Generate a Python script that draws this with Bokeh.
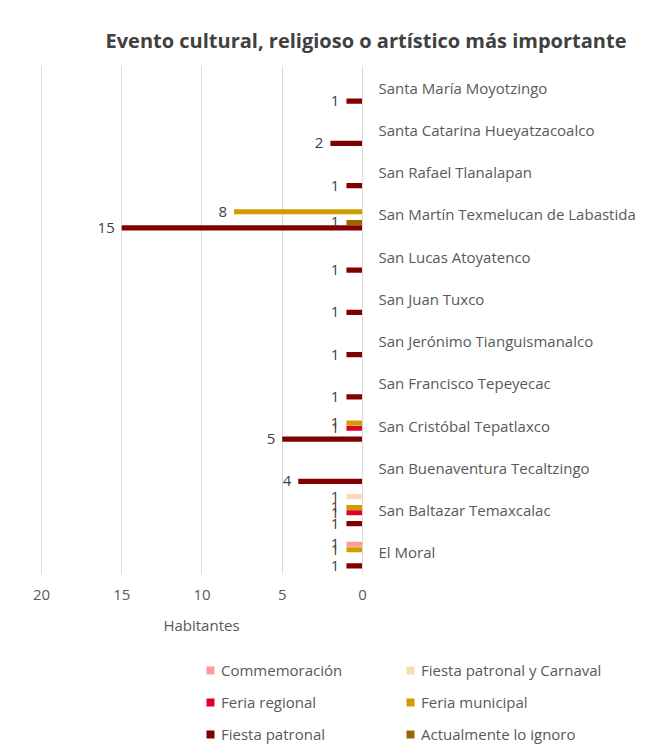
from bokeh.plotting import figure
from bokeh.models import (ColumnDataSource, FactorRange, Range1d, FixedTicker,
                          Legend, LegendItem)
from bokeh.transform import dodge
from bokeh.core.properties import value
from bokeh.embed import file_html
from bokeh.resources import INLINE

# ---------------- data ----------------
categories = [
    "Santa María Moyotzingo",
    "Santa Catarina Hueyatzacoalco",
    "San Rafael Tlanalapan",
    "San Martín Texmelucan de Labastida",
    "San Lucas Atoyatenco",
    "San Juan Tuxco",
    "San Jerónimo Tianguismanalco",
    "San Francisco Tepeyecac",
    "San Cristóbal Tepatlaxco",
    "San Buenaventura Tecaltzingo",
    "San Baltazar Temaxcalac",
    "El Moral",
]
fiesta_patronal = [1, 2, 1, 15, 1, 1, 1, 1, 5, 4, 1, 1]
actualmente_lo_ignoro = [0, 0, 0, 1, 0, 0, 0, 0, 0, 0, 0, 0]
feria_regional = [0, 0, 0, 0, 0, 0, 0, 0, 1, 0, 1, 0]
feria_municipal = [0, 0, 0, 8, 0, 0, 0, 0, 1, 0, 1, 1]
commemoracion = [0, 0, 0, 0, 0, 0, 0, 0, 0, 0, 0, 1]
fiesta_patronal_carnaval = [0, 0, 0, 0, 0, 0, 0, 0, 0, 0, 1, 0]
x_ticks = [0, 5, 10, 15, 20]

series_names = ["Fiesta patronal", "Actualmente lo ignoro", "Feria regional",
                "Feria municipal", "Commemoración", "Fiesta patronal y Carnaval"]
series_values = [fiesta_patronal, actualmente_lo_ignoro, feria_regional,
                 feria_municipal, commemoracion, fiesta_patronal_carnaval]
series_colors = ["#800000", "#996600", "#E0002A", "#D09C00", "#FF9999", "#F7DDB7"]

FONT = "Open Sans"
GRAY = "#595959"

p = figure(width=642, height=640,
           y_range=FactorRange(factors=categories[::-1]),
           x_range=Range1d(20.06, 0),
           y_axis_location="right",
           output_backend="svg", toolbar_location=None,
           min_border_left=40, min_border_right=280, min_border_top=66,
           min_border_bottom=67)

slot = 0.128
bar_h = 0.12
for i, (name, vals, col) in enumerate(zip(series_names, series_values, series_colors)):
    off = (i - 2.5) * slot
    src = ColumnDataSource(dict(cat=categories, v=vals))
    p.hbar(y=dodge("cat", off, range=p.y_range), right="v", left=0,
           height=bar_h, source=src, color=col, line_color=None)
    nz = [(c, v) for c, v in zip(categories, vals) if v != 0]
    lsrc = ColumnDataSource(dict(cat=[c for c, _ in nz], v=[v for _, v in nz],
                                 t=[str(v) for _, v in nz]))
    p.text(x="v", y=dodge("cat", off, range=p.y_range), text="t", source=lsrc,
           text_align="right", text_baseline="middle", x_offset=-7,
           text_font=value(FONT), text_font_size="15px", text_color="#404040")

# title
p.title.text = "Evento cultural, religioso o artístico más importante"
p.title.text_font = FONT
p.title.text_font_size = "20px"
p.title.text_font_style = "bold"
p.title.text_color = "#404040"
p.title.align = "left"
p.title.offset = 65
p.title.standoff = 26

# axes
xa = p.xaxis[0]
xa.ticker = FixedTicker(ticks=x_ticks)
xa.axis_label = "Habitantes"
xa.axis_label_text_font = FONT
xa.axis_label_text_font_size = "15px"
xa.axis_label_text_font_style = "normal"
xa.axis_label_text_color = GRAY
xa.axis_label_standoff = 12
xa.major_label_text_font = FONT
xa.major_label_text_font_size = "15px"
xa.major_label_text_color = GRAY
xa.major_label_standoff = 10
xa.axis_line_color = None
xa.major_tick_line_color = None
xa.minor_tick_line_color = None

ya = p.yaxis[0]
ya.major_label_text_font = FONT
ya.major_label_text_font_size = "15px"
ya.major_label_text_color = GRAY
ya.major_label_standoff = 10
ya.axis_line_color = "#D9D9D9"
ya.major_tick_line_color = None
ya.minor_tick_line_color = None

p.xgrid.grid_line_color = "#D9D9D9"
p.xgrid.ticker = FixedTicker(ticks=x_ticks)
p.ygrid.grid_line_color = None
p.outline_line_color = None

# legend (separate strip below the chart); swatch renderers sit outside the view
lg = figure(width=642, height=110, x_range=Range1d(0, 1), y_range=Range1d(0, 1),
            output_backend="svg", toolbar_location=None, min_border=0)
lg.axis.visible = False
lg.grid.visible = False
lg.outline_line_color = None
leg_r = {}
for name, col in zip(series_names, series_colors):
    leg_r[name] = lg.hbar(y=[-5], right=[1], left=[0], height=0.1,
                          color=col, line_color=None)

legend_cols = [
    (["Commemoración", "Feria regional", "Fiesta patronal"], 205),
    (["Fiesta patronal y Carnaval", "Feria municipal", "Actualmente lo ignoro"], 405),
]
for names, xpos in legend_cols:
    legend = Legend(items=[LegendItem(label=n, renderers=[leg_r[n]]) for n in names],
                    location=(xpos, 5), border_line_color=None,
                    background_fill_alpha=0,
                    label_text_font=FONT, label_text_font_size="15px",
                    label_text_color=GRAY, glyph_width=10, glyph_height=10,
                    label_height=22, spacing=10, padding=0, margin=0,
                    label_standoff=6)
    lg.add_layout(legend, "center")

open("out.html", "w").write(file_html([p, lg], INLINE))
